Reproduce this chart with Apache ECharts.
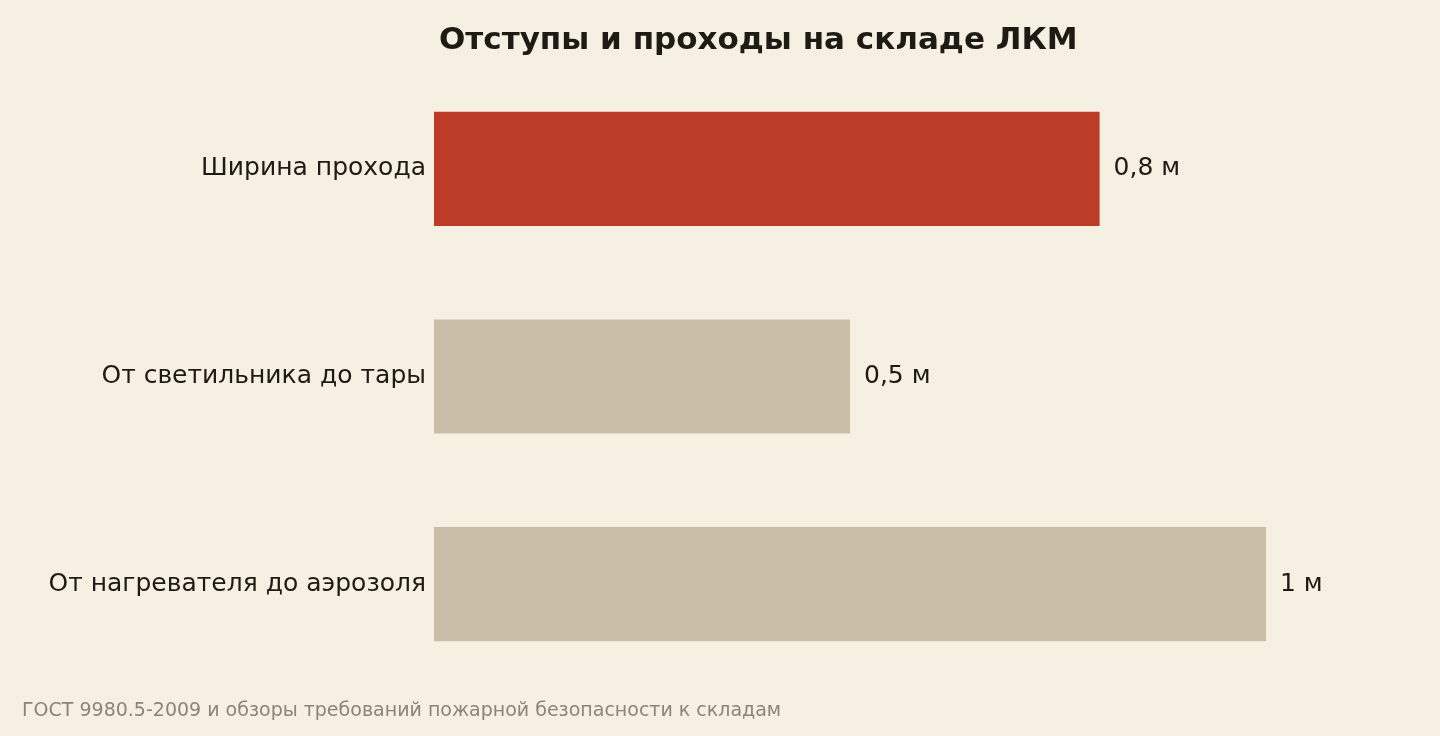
<!DOCTYPE html>
<html><head><meta charset="utf-8">
<script src="https://cdn.jsdelivr.net/npm/echarts@6/dist/echarts.min.js"></script>
<style>html,body{margin:0;padding:0;background:#F6F0E3}#c{width:1440px;height:736px}</style>
</head><body><div id="c"></div>
<script>
const categories = ["Ширина прохода", "От светильника до тары", "От нагревателя до аэрозоля"];
const values = [0.8, 0.5, 1];
const valueLabels = ["0,8 м", "0,5 м", "1 м"];
const colors = ["#BB3D27", "#C9BFA8", "#C9BFA8"];
const chart = echarts.init(document.getElementById('c'));
const font = "DejaVu Sans";
chart.setOption({
  backgroundColor: "#F6F0E3",
  title: [{
    text: "Отступы и проходы на складе ЛКМ", left: 434, top: 20,
    textStyle: {fontFamily: font, fontSize: 31, fontWeight: "bold", color: "#1E1A14"}
  }, {
    text: "ГОСТ 9980.5-2009 и обзоры требований пожарной безопасности к складам", left: 17, top: 697,
    textStyle: {fontFamily: font, fontSize: 19, fontWeight: "normal", color: "#8A857A"}
  }],
  grid: {left: 434, right: 174, top: 65, bottom: 48},
  xAxis: {type: "value", min: 0, max: 1, show: false},
  yAxis: {
    type: "category", data: categories, inverse: true,
    axisLine: {show: false}, axisTick: {show: false},
    axisLabel: {fontFamily: font, fontSize: 25, color: "#1E1A14", margin: 8}
  },
  series: [{
    type: "bar", barWidth: "55%",
    data: values.map((v, i) => ({value: v, itemStyle: {color: colors[i]}})),
    label: {
      show: true, position: "right", distance: 14,
      fontFamily: font, fontSize: 25, color: "#1E1A14",
      formatter: p => valueLabels[p.dataIndex]
    }
  }]
});
</script></body></html>
